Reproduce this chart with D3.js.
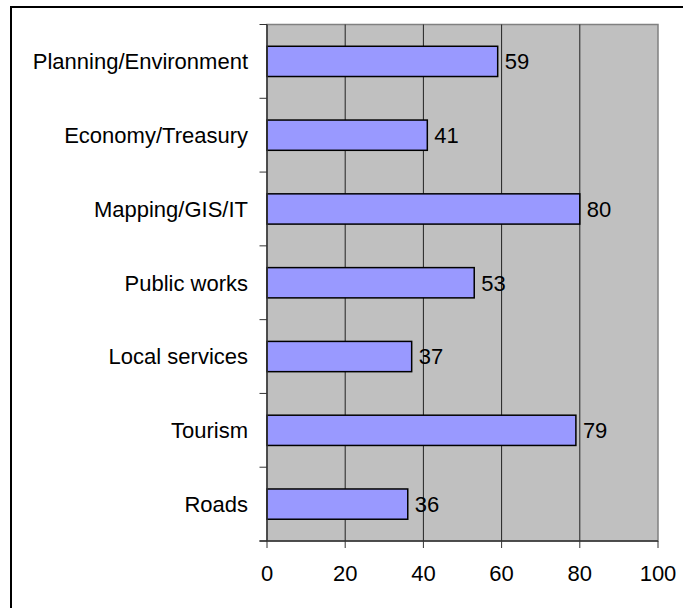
<!DOCTYPE html>
<html>
<head>
<meta charset="utf-8">
<script src="https://cdn.jsdelivr.net/npm/d3@7"></script>
<style>
  body { margin: 0; background: #fff; }
  text { font-family: "Liberation Sans", Arial, sans-serif; font-size: 22px; fill: #000; }
</style>
</head>
<body>
<script>
// chart data
var categories = ["Planning/Environment", "Economy/Treasury", "Mapping/GIS/IT",
                  "Public works", "Local services", "Tourism", "Roads"];
var values = [59, 41, 80, 53, 37, 79, 36];
var xTicks = [0, 20, 40, 60, 80, 100];

var W = 683, H = 608;
var plotL = 267, plotR = 658, plotT = 24.5, plotB = 541;

var svg = d3.select("body").append("svg")
    .attr("width", W)
    .attr("height", H);

// outer frame (right/bottom edges fall outside the picture)
svg.append("rect")
    .attr("x", 11).attr("y", 7)
    .attr("width", 700).attr("height", 700)
    .attr("fill", "#fff")
    .attr("stroke", "#000")
    .attr("stroke-width", 2);

var x = d3.scaleLinear().domain([0, 100]).range([plotL, plotR]);
var y = d3.scaleBand().domain(categories).range([plotT, plotB]).paddingInner(0).paddingOuter(0);

// plot background
svg.append("rect")
    .attr("x", plotL).attr("y", plotT)
    .attr("width", plotR - plotL).attr("height", plotB - plotT)
    .attr("fill", "#c0c0c0")
    .attr("stroke", "#808080")
    .attr("stroke-width", 1.5);

// vertical gridlines
svg.selectAll("line.grid")
  .data(xTicks.slice(1, -1))
  .enter().append("line")
    .attr("class", "grid")
    .attr("x1", function(d) { return x(d); })
    .attr("x2", function(d) { return x(d); })
    .attr("y1", plotT).attr("y2", plotB)
    .attr("stroke", "#222")
    .attr("stroke-width", 1);

// bars
var barH = y.bandwidth() * 0.41;
svg.selectAll("rect.bar")
  .data(values)
  .enter().append("rect")
    .attr("class", "bar")
    .attr("x", x(0))
    .attr("y", function(d, i) { return y(categories[i]) + (y.bandwidth() - barH) / 2; })
    .attr("width", function(d) { return x(d) - x(0); })
    .attr("height", barH)
    .attr("fill", "#9999ff")
    .attr("stroke", "#000")
    .attr("stroke-width", 1.5);

// value labels
svg.selectAll("text.val")
  .data(values)
  .enter().append("text")
    .attr("class", "val")
    .attr("x", function(d) { return x(d) + 7; })
    .attr("y", function(d, i) { return y(categories[i]) + y.bandwidth() / 2; })
    .attr("dy", "0.36em")
    .text(function(d) { return d; });

// y axis
var yAxis = svg.append("g");
yAxis.append("line")
    .attr("x1", plotL).attr("x2", plotL)
    .attr("y1", plotT).attr("y2", plotB)
    .attr("stroke", "#333").attr("stroke-width", 1.5);
var yTickPos = categories.map(function(c) { return y(c); }).concat([plotB]);
yAxis.selectAll("line.tick")
  .data(yTickPos)
  .enter().append("line")
    .attr("x1", plotL - 7.5).attr("x2", plotL)
    .attr("y1", function(d) { return d; })
    .attr("y2", function(d) { return d; })
    .attr("stroke", "#333").attr("stroke-width", 1);
yAxis.selectAll("text")
  .data(categories)
  .enter().append("text")
    .attr("x", 248)
    .attr("y", function(d) { return y(d) + y.bandwidth() / 2; })
    .attr("dy", "0.36em")
    .attr("text-anchor", "end")
    .text(function(d) { return d; });

// x axis
var xAxis = svg.append("g");
xAxis.append("line")
    .attr("x1", plotL - 7.5).attr("x2", plotR)
    .attr("y1", plotB).attr("y2", plotB)
    .attr("stroke", "#333").attr("stroke-width", 1.5);
xAxis.selectAll("line.tick")
  .data(xTicks)
  .enter().append("line")
    .attr("x1", function(d) { return x(d); })
    .attr("x2", function(d) { return x(d); })
    .attr("y1", plotB).attr("y2", plotB + 7)
    .attr("stroke", "#333").attr("stroke-width", 1);
xAxis.selectAll("text")
  .data(xTicks)
  .enter().append("text")
    .attr("x", function(d) { return x(d); })
    .attr("y", 573)
    .attr("dy", "0.36em")
    .attr("text-anchor", "middle")
    .text(function(d) { return d; });
</script>
</body>
</html>
